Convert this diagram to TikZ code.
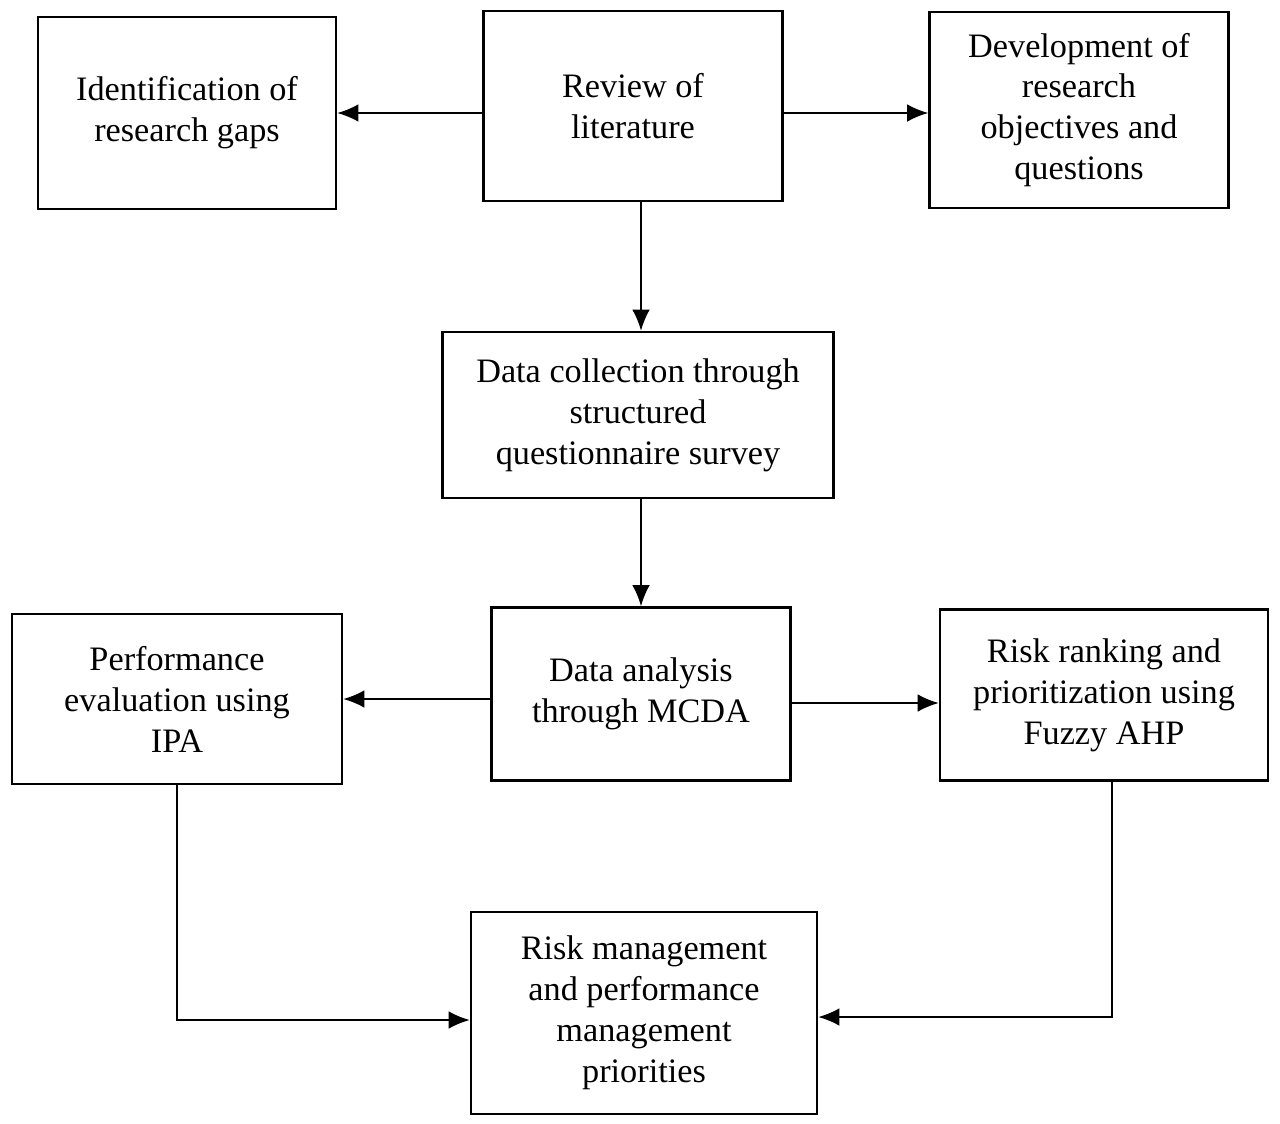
\documentclass[tikz,border=0pt]{standalone}
\usepackage{fontspec}
\setmainfont{Liberation Serif}
\usepackage{tikz}
\usetikzlibrary{arrows.meta,calc}

\tikzset{
  stage/.style={draw,line width=1.4pt,align=center,inner sep=0pt,
    font=\fontsize{19.5}{23.3}\selectfont},
  flow/.style={line width=1.1pt,-{Latex[length=12pt,width=10pt]}}
}

\begin{document}
\begin{tikzpicture}[x=0.02cm,y=-0.02cm]
          \useasboundingbox (0,0) rectangle (1280,1123);
          %boxes
          \node[stage,minimum width=5.96cm,minimum height=3.84cm] (gaps) at (187,113) {Identification of\\research gaps};
          \node[stage,minimum width=5.98cm,minimum height=3.8cm] (lit) at (633,106) {Review of\\literature};
          \node[stage,minimum width=5.98cm,minimum height=3.92cm] (obj) at (1079,110) {Development of\\research\\objectives and\\questions};
          \node[stage,minimum width=7.82cm,minimum height=3.32cm] (coll) at (638,415) {Data collection through\\structured\\questionnaire survey};
          \node[stage,minimum width=5.98cm,minimum height=3.46cm] (mcda) at (641,694) {Data analysis\\through MCDA};
          \node[stage,minimum width=6.6cm,minimum height=3.4cm] (ipa) at (177,699) {Performance\\evaluation using\\IPA};
          \node[stage,minimum width=6.56cm,minimum height=3.42cm] (ahp) at (1104,695) {Risk ranking and\\prioritization using\\Fuzzy AHP};
          \node[stage,minimum width=6.92cm,minimum height=4.04cm] (prio) at (644,1013) {Risk management\\and performance\\management\\priorities};
          %arrows
          \draw[flow] (lit.west|-gaps.east) -- (gaps.east);
          \draw[flow] (lit.east|-gaps.east) -- (obj.west|-gaps.east);
          \draw[flow] ($(lit.south)+(8,0)$) -- ($(coll.north)+(3,0)$);
          \draw[flow] ($(coll.south)+(3,0)$) -- (mcda.north);
          \draw[flow] (mcda.west|-ipa.east) -- (ipa.east);
          \draw[flow] ($(mcda.east)+(0,9)$) -- ($(mcda.east-|ahp.west)+(0,9)$);
          \draw[flow] (ipa.south) |- ($(prio.west)+(0,7)$);
          \draw[flow] ($(ahp.south)+(8,0)$) |- ($(prio.east)+(0,4)$);
        \end{tikzpicture}
\end{document}
